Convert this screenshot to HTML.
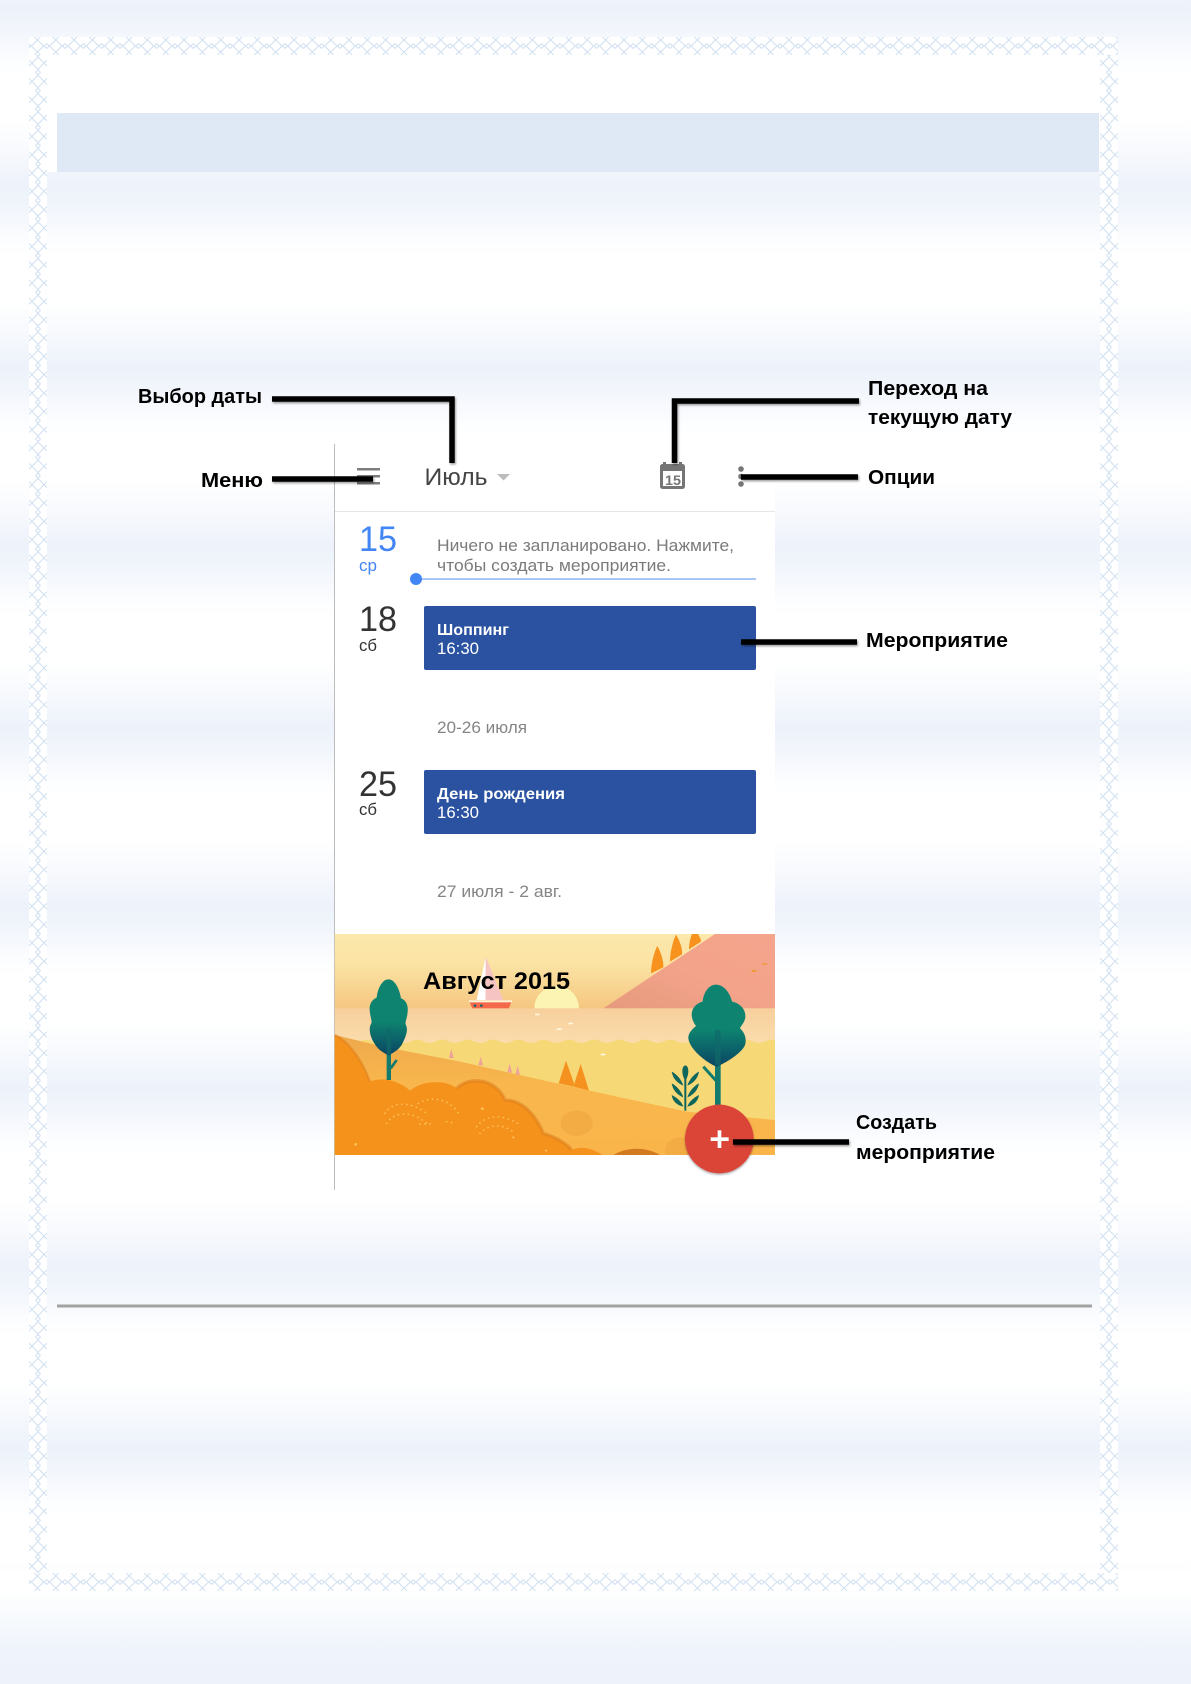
<!DOCTYPE html>
<html><head><meta charset="utf-8"><style>
html,body{margin:0;padding:0;width:1191px;height:1684px;overflow:hidden;background:#fff}
#bg{position:absolute;left:0;top:0;width:1191px;height:1684px;
background:linear-gradient(to bottom,#eef3fb 0,#eff4fb 12px,#f7f9fd 38px,#fdfeff 58px,#fff 70px,#fff 112px,#fbfcfe 130px,#f4f7fc 155px,#eff3fb 172px,#eef3fb 180px);
background-size:100% 180px;background-position:0 8px}
#tail{position:absolute;left:0;top:1570px;width:1191px;height:114px;
background:linear-gradient(to bottom,#fff 0,#fff 18px,#fbfcfe 35px,#f5f8fd 58px,#eff3fb 80px,#eef3fb 114px)}
svg{position:absolute;left:0;top:0}
text{font-family:"Liberation Sans",sans-serif}
.l{font-weight:bold;font-size:20px;fill:#000}
</style></head><body>
<div id="bg"></div>
<div id="tail"></div>
<svg width="1191" height="1684" viewBox="0 0 1191 1684" xmlns="http://www.w3.org/2000/svg">
<defs>
<pattern id="ph" x="46.7" y="37" width="18.33" height="18" patternUnits="userSpaceOnUse">
<g fill="none" stroke="#cfdff1" stroke-width="1">
<path d="M3 9L12 0M3 9L12 18M15.33 9L6 0M15.33 9L6 18"/>
<path d="M0 6.5L2.5 9L0 11.5M18.33 6.5L15.83 9L18.33 11.5"/>
</g>
</pattern>
<pattern id="ph2" x="46.7" y="1573" width="18.33" height="18" patternUnits="userSpaceOnUse">
<g fill="none" stroke="#cfdff1" stroke-width="1">
<path d="M3 9L12 0M3 9L12 18M15.33 9L6 0M15.33 9L6 18"/>
<path d="M0 6.5L2.5 9L0 11.5M18.33 6.5L15.83 9L18.33 11.5"/>
</g>
</pattern>
<pattern id="pv" x="29" y="54" width="18" height="18.33" patternUnits="userSpaceOnUse">
<g fill="none" stroke="#cfdff1" stroke-width="1">
<path d="M9 3L0 12M9 3L18 12M9 15.33L0 6M9 15.33L18 6"/>
<path d="M6.5 0L9 2.5L11.5 0M6.5 18.33L9 15.83L11.5 18.33"/>
</g>
</pattern>
<pattern id="pv2" x="1100" y="54" width="18" height="18.33" patternUnits="userSpaceOnUse">
<g fill="none" stroke="#cfdff1" stroke-width="1">
<path d="M9 3L0 12M9 3L18 12M9 15.33L0 6M9 15.33L18 6"/>
<path d="M6.5 0L9 2.5L11.5 0M6.5 18.33L9 15.83L11.5 18.33"/>
</g>
</pattern>
<linearGradient id="sky" x1="0" y1="0" x2="0" y2="1"><stop offset="0" stop-color="#fbe8ab"/><stop offset=".4" stop-color="#fbe3a4"/><stop offset="1" stop-color="#f5c680"/></linearGradient>
<linearGradient id="water" x1="0" y1="0" x2="0" y2="1"><stop offset="0" stop-color="#f7cf9d"/><stop offset="1" stop-color="#fbdcab"/></linearGradient>
<linearGradient id="ground" x1="0" y1="0" x2="0" y2="1"><stop offset="0" stop-color="#eea94c"/><stop offset=".4" stop-color="#f8b64d"/><stop offset="1" stop-color="#fab54a"/></linearGradient>
<linearGradient id="hill" x1="0" y1="1" x2="1" y2="0"><stop offset="0" stop-color="#e69a7d"/><stop offset=".5" stop-color="#f3a38a"/><stop offset="1" stop-color="#f5a48c"/></linearGradient>
<linearGradient id="tree1" x1="0" y1="0" x2="0" y2="1"><stop offset="0" stop-color="#0e8370"/><stop offset=".55" stop-color="#0e8370"/><stop offset="1" stop-color="#0a4563"/></linearGradient>
<clipPath id="ill"><rect x="44" y="42" width="1321" height="663"/></clipPath>
<filter id="sh" x="-5%" y="-50%" width="110%" height="200%"><feDropShadow dx="1" dy="1.5" stdDeviation="1" flood-color="#000" flood-opacity=".4"/></filter>
<filter id="fab" x="-30%" y="-30%" width="160%" height="160%"><feDropShadow dx="0" dy="4" stdDeviation="3.5" flood-color="#000" flood-opacity=".35"/></filter>
</defs>

<!-- page frame -->
<rect x="29" y="37" width="1089" height="18" fill="#fff"/>
<rect x="29" y="1573" width="1089" height="18" fill="#fff"/>
<rect x="29" y="37" width="18" height="1554" fill="#fff"/>
<rect x="1100" y="37" width="18" height="1554" fill="#fff"/>
<rect x="47" y="55" width="1053" height="117" fill="#fff"/>
<rect x="29" y="55" width="18" height="1518" fill="url(#pv)"/>
<rect x="1100" y="55" width="18" height="1518" fill="url(#pv2)"/>
<rect x="29" y="37" width="1089" height="18" fill="url(#ph)"/>
<rect x="29" y="1573" width="1089" height="18" fill="url(#ph2)"/>
<rect x="57" y="113" width="1042" height="59" fill="#dee9f5"/>
<rect x="57" y="1304.5" width="1035" height="3" fill="#a2a2a2"/>

<!-- phone screen -->
<rect x="335" y="444" width="440" height="746" fill="#fff"/>
<rect x="334" y="444" width="1" height="746" fill="#bdbdbd"/>
<rect x="335" y="511" width="440" height="1" fill="#e6e6e6"/>

<!-- header icons -->
<g fill="#7d7d7d">
<rect x="357" y="468" width="23" height="2.5"/>
<rect x="357" y="475" width="23" height="2.5"/>
<rect x="357" y="482" width="23" height="2.5"/>
</g>
<text x="424.500" y="485" font-size="24" fill="#444" textLength="63" lengthAdjust="spacingAndGlyphs">Июль</text>
<path d="M497 474H510L503.500 480.500Z" fill="#bdbdbd"/>
<rect x="660" y="464" width="25" height="25" rx="2.500" fill="#757575"/>
<rect x="663" y="462" width="3" height="4" fill="#757575"/><rect x="679" y="462" width="3" height="4" fill="#757575"/>
<rect x="663" y="471" width="19" height="15" fill="#fff"/>
<text x="665" y="485" font-size="14" font-weight="bold" fill="#757575" textLength="16" lengthAdjust="spacingAndGlyphs">15</text>
<g fill="#757575"><circle cx="741" cy="469" r="2.800"/><circle cx="741" cy="476.500" r="2.800"/><circle cx="741" cy="484" r="2.800"/></g>

<!-- agenda -->
<text x="359" y="551" font-size="35" fill="#4285f4" textLength="38" lengthAdjust="spacingAndGlyphs">15</text>
<text x="359" y="571" font-size="17" fill="#4285f4" textLength="18" lengthAdjust="spacingAndGlyphs">ср</text>
<text x="437" y="551" font-size="17" fill="#7b7b7b" textLength="297" lengthAdjust="spacingAndGlyphs">Ничего не запланировано. Нажмите,</text>
<text x="437" y="571" font-size="17" fill="#7b7b7b" textLength="234" lengthAdjust="spacingAndGlyphs">чтобы создать мероприятие.</text>
<rect x="416" y="578.300" width="340" height="1.500" fill="#8fb4f6"/>
<circle cx="416" cy="579" r="6" fill="#4285f4"/>

<text x="359" y="631" font-size="35" fill="#333" textLength="38" lengthAdjust="spacingAndGlyphs">18</text>
<text x="359" y="651" font-size="17" fill="#333" textLength="18" lengthAdjust="spacingAndGlyphs">сб</text>
<rect x="424" y="606" width="332" height="64" rx="2" fill="#2a52a0"/>
<text x="437" y="635" font-size="16" font-weight="bold" fill="#fff" textLength="72" lengthAdjust="spacingAndGlyphs">Шоппинг</text>
<text x="437" y="654" font-size="17" fill="#fff" textLength="42" lengthAdjust="spacingAndGlyphs">16:30</text>

<text x="437" y="733" font-size="16.500" fill="#858585" textLength="90" lengthAdjust="spacingAndGlyphs">20-26 июля</text>

<text x="359" y="796" font-size="35" fill="#333" textLength="38" lengthAdjust="spacingAndGlyphs">25</text>
<text x="359" y="815" font-size="17" fill="#333" textLength="18" lengthAdjust="spacingAndGlyphs">сб</text>
<rect x="424" y="770" width="332" height="64" rx="2" fill="#2a52a0"/>
<text x="437" y="799" font-size="16" font-weight="bold" fill="#fff" textLength="128" lengthAdjust="spacingAndGlyphs">День рождения</text>
<text x="437" y="818" font-size="17" fill="#fff" textLength="42" lengthAdjust="spacingAndGlyphs">16:30</text>

<text x="437" y="897" font-size="16.500" fill="#858585" textLength="125" lengthAdjust="spacingAndGlyphs">27 июля - 2 авг.</text>

<!-- illustration: coordinates at 3x, origin 320,920 -->
<g transform="translate(320 920) scale(.33333)">
<g clip-path="url(#ill)">
<rect x="44" y="42" width="1321" height="225" fill="url(#sky)"/>
<path d="M850 265L1185 42H1365V265Z" fill="url(#hill)"/>
<path d="M993 160C993 130 1003 95 1012 78C1022 95 1032 125 1030 142Z" fill="#f7921e"/>
<path d="M1050 125C1050 95 1060 60 1068 44C1078 60 1088 85 1086 103Z" fill="#f7921e"/>
<path d="M1107 88C1107 70 1112 52 1116 42H1134C1138 50 1144 58 1143 65Z" fill="#f7921e"/>
<circle cx="710" cy="265" r="67" fill="#fbf4b2"/>
<path d="M497 110L470 240H497Z" fill="#fff"/>
<path d="M497 110L550 240H497Z" fill="#f6c4c2"/>
<path d="M447 242H576L566 266H457Z" fill="#f4694a"/>
<rect x="447" y="241" width="129" height="6" fill="#fff2d8"/>
<circle cx="465" cy="257" r="4" fill="#14656a"/><circle cx="484" cy="257" r="4" fill="#14656a"/>
<rect x="44" y="265" width="1321" height="105" fill="url(#water)"/>
<path d="M44 364q19 -10 38 0t38 0t38 0t38 0t38 0t38 0t38 0t38 0t38 0t38 0t38 0t38 0t38 0t38 0t38 0t38 0t38 0t38 0t38 0t38 0t38 0t38 0t38 0t38 0t38 0t38 0t38 0t38 0t38 0t38 0t38 0t38 0t38 0t38 0t38 0V705H44Z" fill="#f7d877"/>
<g fill="#fff8dc"><rect x="645" y="281" width="14" height="5" rx="2"/><rect x="710" y="325" width="16" height="5" rx="2"/><rect x="745" y="308" width="14" height="5" rx="2"/><rect x="842" y="401" width="15" height="5" rx="2"/></g>
<path d="M1325 130h20l-8 5h-6zM1292 150h20l-8 6h-6z" fill="#ee9a33"/>
<g fill="#eda39a"><path d="M394 387L401 414H387Z"/><path d="M482 410L489 436H475Z"/><path d="M569 430L576 458H562Z"/><path d="M593 437L600 465H586Z"/></g>
<path d="M738 422L762 490L760 500L716 490Z" fill="#f5921f"/>
<path d="M782 432L807 512L760 500Z" fill="#f5921f"/>
<path d="M44 345L200 382L420 425L800 510L1100 575L1365 600V705H44Z" fill="url(#ground)"/>
<ellipse cx="770" cy="610" rx="48" ry="38" fill="#f3ab44"/>
<ellipse cx="1085" cy="690" rx="50" ry="38" fill="#f3ab44"/>
<path d="M44 345C90 365 130 430 150 485C185 470 235 480 270 512C310 478 380 480 410 505C450 465 530 478 555 540C610 540 650 590 670 640C705 650 740 670 755 690C790 675 825 690 848 705H44Z" fill="#f5921c"/>
<path d="M410 505C450 465 530 478 555 540C610 540 650 590 670 640C705 650 740 670 755 690" fill="none" stroke="#d9791a" stroke-width="10" opacity=".5"/>
<path d="M44 345C90 365 130 430 150 485" fill="none" stroke="#d9791a" stroke-width="8" opacity=".4"/>
<path d="M880 705C920 680 980 680 1020 705Z" fill="#d27a20"/>
<g fill="none" stroke="#fcc75c" stroke-width="5" stroke-linecap="round" stroke-dasharray="0 15">
<path d="M195 580C215 545 275 540 325 585"/>
<path d="M200 610C225 570 280 575 320 610"/>
<path d="M295 550C325 530 385 530 415 580"/>
<path d="M300 612H340M380 605L405 610"/>
<path d="M470 620C490 590 540 575 600 615"/>
<path d="M480 640C510 610 550 610 585 640"/>
</g>
<g fill="#fcc75c"><circle cx="107" cy="673" r="4"/><circle cx="487" cy="566" r="4"/><circle cx="580" cy="652" r="3"/><circle cx="678" cy="692" r="3"/></g>
<!-- left tree -->
<rect x="200" y="325" width="13" height="155" fill="#137a6e"/>
<path d="M212 445L230 420" stroke="#137a6e" stroke-width="8" fill="none"/>
<path d="M205 178C228 178 240 215 243 235C258 240 265 255 263 275C262 295 253 308 258 315C265 330 258 350 245 375C235 390 218 400 205 406C190 398 175 390 163 370C150 350 145 325 153 312C158 305 150 290 149 270C148 252 155 240 170 233C172 210 185 178 205 178Z" fill="url(#tree1)"/>
<rect x="200" y="325" width="13" height="78" fill="#0f6a6a" opacity=".7"/>
<!-- right tree -->
<rect x="1185" y="330" width="17" height="235" fill="#137a6e"/>
<path d="M1188 482L1150 440" stroke="#137a6e" stroke-width="9" fill="none"/>
<path d="M1188 194C1215 194 1232 225 1236 245C1262 250 1278 270 1276 292C1274 308 1262 318 1260 325C1272 335 1280 352 1276 372C1270 395 1225 425 1190 440C1160 428 1110 390 1105 355C1104 338 1120 325 1128 318C1118 305 1113 290 1116 275C1120 258 1135 248 1148 245C1150 220 1165 194 1188 194Z" fill="url(#tree1)"/>
<rect x="1185" y="330" width="17" height="105" fill="#0f6a6a" opacity=".7"/>
<!-- plant -->
<g fill="#0f665c">
<rect x="1093" y="460" width="6" height="112"/>
<path d="M1096 436C1108 438 1108 465 1096 482C1084 465 1084 438 1096 436Z"/>
<path d="M1055 455C1070 462 1085 480 1090 497C1072 490 1058 475 1055 455Z"/>
<path d="M1137 455C1122 462 1107 480 1102 497C1120 490 1134 475 1137 455Z"/>
<path d="M1055 490C1070 497 1085 515 1090 532C1072 525 1058 510 1055 490Z"/>
<path d="M1137 490C1122 497 1107 515 1102 532C1120 525 1134 510 1137 490Z"/>
<path d="M1055 525C1070 532 1085 545 1090 560C1072 556 1058 545 1055 525Z"/>
<path d="M1137 525C1122 532 1107 545 1102 560C1120 556 1134 545 1137 525Z"/>
</g>
</g>
<!-- FAB -->
<circle cx="1198" cy="657" r="103" fill="#db4437" filter="url(#fab)"/>
<rect x="1172" y="652" width="54" height="11" fill="#fff"/>
<rect x="1193" y="631" width="11" height="53" fill="#fff"/>
</g>
<text x="423" y="989" font-size="24" font-weight="bold" fill="#000" textLength="147" lengthAdjust="spacingAndGlyphs">Август 2015</text>

<!-- connectors -->
<g fill="none" stroke="#000" stroke-width="5.500" filter="url(#sh)">
<path d="M272 399H452V463"/>
<path d="M272 479H373"/>
<path d="M859 401H674.500V463"/>
<path d="M741 477H858"/>
<path d="M741 642H857"/>
<path d="M733 1142H849"/>
</g>

<!-- labels -->
<text class="l" x="138" y="403" textLength="124" lengthAdjust="spacingAndGlyphs">Выбор даты</text>
<text class="l" x="201" y="487" textLength="62" lengthAdjust="spacingAndGlyphs">Меню</text>
<text class="l" x="868" y="395" textLength="120" lengthAdjust="spacingAndGlyphs">Переход на</text>
<text class="l" x="868" y="424" textLength="144" lengthAdjust="spacingAndGlyphs">текущую дату</text>
<text class="l" x="868" y="484" textLength="67" lengthAdjust="spacingAndGlyphs">Опции</text>
<text class="l" x="866" y="647" textLength="142" lengthAdjust="spacingAndGlyphs">Мероприятие</text>
<text class="l" x="856" y="1129" textLength="81" lengthAdjust="spacingAndGlyphs">Создать</text>
<text class="l" x="856" y="1159" textLength="139" lengthAdjust="spacingAndGlyphs">мероприятие</text>
</svg>
</body></html>
